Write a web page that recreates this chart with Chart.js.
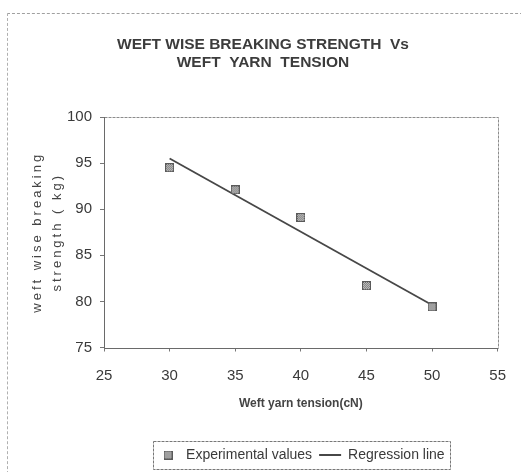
<!DOCTYPE html>
<html>
<head>
<meta charset="utf-8">
<script src="https://cdn.jsdelivr.net/npm/chart.js@4.4.1/dist/chart.umd.min.js"></script>
<style>
  body { margin: 0; background: #fff; }
  #wrap { position: relative; width: 521px; height: 472px; overflow: hidden; }
  #frame { position: absolute; left: 7px; top: 13px; width: 530px; height: 480px;
           border-left: 1px dashed #b0b0b0; border-top: 1px dashed #a0a0a0; }
  #chart { position: absolute; left: 0; top: 0; }
</style>
</head>
<body>
<div id="wrap">
  <div id="frame"></div>
  <canvas id="chart" width="521" height="472"></canvas>
</div>
<script>
// tension (cN) vs weft wise breaking strength (kg)
const tension = [30, 35, 40, 45, 50];
const strength = [94.5, 92.1, 89.1, 81.7, 79.4];

// regression line end points
const regTension = [30, 50];
const regStrength = [95.5, 79.6];

const xTicks = [25, 30, 35, 40, 45, 50, 55];
const yTicks = [75, 80, 85, 90, 95, 100];

const textColor = "#3a3a3a";
const sansFont = "'Liberation Sans', Arial, sans-serif";

function makeMarker() {
    const c = document.createElement("canvas");
    c.width = 9;
    c.height = 9;
    const g = c.getContext("2d");
    g.fillStyle = "#d2d2d2";
    g.fillRect(0, 0, 9, 9);
    g.fillStyle = "#6e6e6e";
    for (let i = 1; i < 8; i++) {
        for (let j = 1; j < 8; j++) {
            if ((i + j) % 2 === 0) g.fillRect(i, j, 1, 1);
        }
    }
    g.strokeStyle = "#5a5a5a";
    g.lineWidth = 1;
    g.strokeRect(0.5, 0.5, 8, 8);
    return c;
}
const marker = makeMarker();

const layoutFix = {
    id: "layoutFix",
    afterLayout(chart) {
        const area = chart.chartArea;
        if (chart.titleBlock) {
            chart.titleBlock.left = 7;
            chart.titleBlock.right = 519;
        }
        if (chart.legend) {
            chart.legend.left = area.left;
            chart.legend.right = area.right;
        }
        const ys = chart.scales.y;
        if (ys && !ys._spaced) {
            const orig = ys.drawTitle;
            ys.drawTitle = function () {
                this.ctx.save();
                this.ctx.letterSpacing = "3px";
                orig.call(this);
                this.ctx.restore();
            };
            ys._spaced = true;
        }
    },
    beforeDatasetsDraw(chart) {
        const a = chart.chartArea;
        const ctx = chart.ctx;
        ctx.save();
        ctx.strokeStyle = "#8c8c8c";
        ctx.lineWidth = 1;
        ctx.setLineDash([3, 1]);
        ctx.strokeRect(Math.round(a.left) + 0.5, Math.round(a.top) + 0.5,
            Math.round(a.right - a.left), Math.round(a.bottom - a.top));
        ctx.setLineDash([]);
        ctx.strokeStyle = "#6a6a6a";
        ctx.beginPath();
        ctx.moveTo(Math.round(a.left) + 0.5, Math.round(a.top));
        ctx.lineTo(Math.round(a.left) + 0.5, Math.round(a.bottom) + 0.5);
        ctx.lineTo(Math.round(a.right), Math.round(a.bottom) + 0.5);
        ctx.stroke();
        ctx.restore();
    },
    afterDraw(chart) {
        const boxes = chart.legend && chart.legend.legendHitBoxes;
        if (!boxes || !boxes.length) return;
        const left = Math.min(...boxes.map(b => b.left)) - 4;
        const right = Math.max(...boxes.map(b => b.left + b.width)) + 5;
        const top = boxes[0].top - 7;
        const ctx = chart.ctx;
        ctx.save();
        ctx.strokeStyle = "#777";
        ctx.lineWidth = 1;
        ctx.setLineDash([3, 1]);
        ctx.strokeRect(Math.round(left) + 0.5, Math.round(top) + 0.5, Math.round(right - left), 28);
        ctx.restore();
    }
};

new Chart(document.getElementById("chart"), {
    type: "scatter",
    data: {
        datasets: [
            {
                label: "Experimental values",
                data: tension.map((x, i) => ({ x: x, y: strength[i] })),
                pointStyle: marker,
                pointRadius: 5,
                pointHoverRadius: 5,
                showLine: false
            },
            {
                label: "Regression line",
                data: regTension.map((x, i) => ({ x: x, y: regStrength[i] })),
                showLine: true,
                borderColor: "#474747",
                borderWidth: 1.8,
                pointRadius: 0,
                pointHoverRadius: 0,
                pointStyle: "line",
                pointBorderColor: "#474747",
                pointBorderWidth: 1.8
            }
        ]
    },
    options: {
        responsive: false,
        animation: false,
        layout: { padding: { left: 7, top: 13, right: 14, bottom: 0 } },
        plugins: {
            tooltip: { enabled: false },
            title: {
                display: true,
                text: ["WEFT WISE BREAKING STRENGTH  Vs", "WEFT  YARN  TENSION"],
                color: "#3c3c3c",
                font: { family: sansFont, size: 15.5, weight: "bold", lineHeight: "18px" },
                padding: { top: 23, bottom: 45 }
            },
            legend: {
                position: "bottom",
                labels: {
                    usePointStyle: true,
                    pointStyleWidth: 22,
                    color: textColor,
                    font: { family: sansFont, size: 14 },
                    padding: 7
                }
            }
        },
        scales: {
            x: {
                type: "linear",
                min: 25,
                max: 55,
                afterBuildTicks: scale => { scale.ticks = xTicks.map(v => ({ value: v })); },
                afterFit: scale => { scale.height = 93.5; },
                grid: { display: true, drawOnChartArea: false, drawTicks: true, tickLength: 4, color: "#777" },
                border: { display: false },
                ticks: { color: textColor, font: { family: sansFont, size: 15 }, padding: 15 },
                title: {
                    display: true,
                    text: "Weft yarn tension(cN)",
                    color: "#444",
                    font: { family: sansFont, size: 12, weight: "bold" },
                    padding: { top: 0, bottom: 30 }
                }
            },
            y: {
                min: 75,
                max: 100,
                afterBuildTicks: scale => { scale.ticks = yTicks.map(v => ({ value: v })); },
                afterFit: scale => { scale.width = 97; },
                grid: { display: true, drawOnChartArea: false, drawTicks: true, tickLength: 4, color: "#777" },
                border: { display: false },
                ticks: { color: textColor, font: { family: sansFont, size: 15 }, padding: 8 },
                title: {
                    display: true,
                    text: ["weft wise breaking", "strength ( kg)"],
                    color: "#444",
                    font: { family: sansFont, size: 13, lineHeight: "20px" },
                    padding: { top: 20, bottom: 0 }
                }
            }
        }
    },
    plugins: [layoutFix]
});
</script>
</body>
</html>
